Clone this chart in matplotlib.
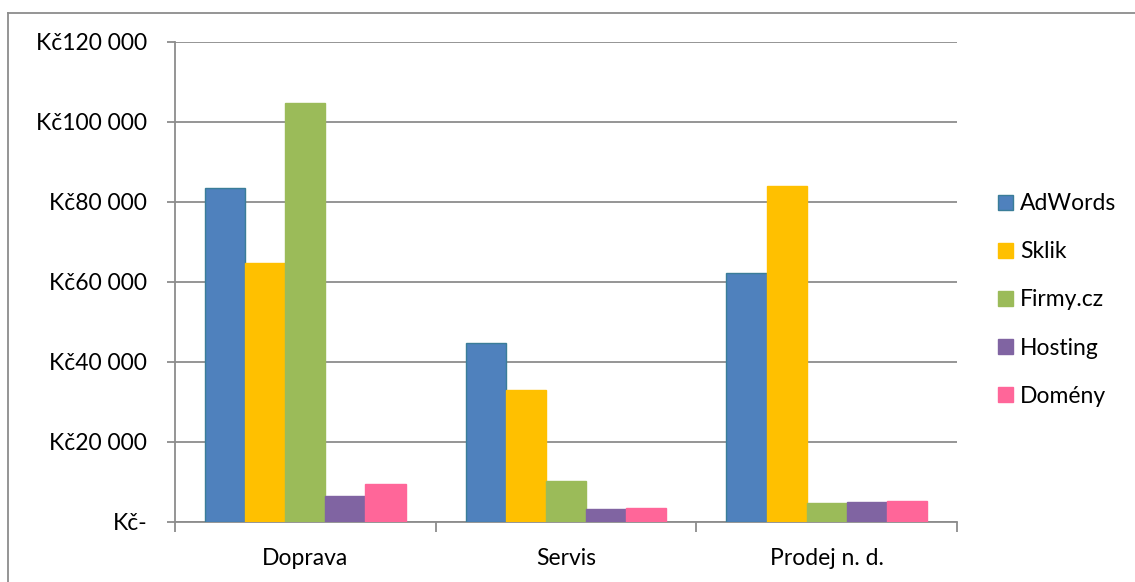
import numpy as np
import matplotlib
matplotlib.use('Agg')
import matplotlib.pyplot as plt
from matplotlib.ticker import FuncFormatter
from matplotlib.patches import Patch
from matplotlib.lines import Line2D

plt.rcParams['font.family'] = ['Lato', 'DejaVu Sans']

categories = ['Doprava', 'Servis', 'Prodej n. d.']
series = ['AdWords', 'Sklik', 'Firmy.cz', 'Hosting', 'Domény']
adwords = [83500, 44600, 62200]
sklik = [64750, 32850, 84000]
firmy = [104700, 10100, 4700]
hosting = [6400, 3250, 4900]
domeny = [9350, 3350, 5100]
yticks = [0, 20000, 40000, 60000, 80000, 100000, 120000]

values = [adwords, sklik, firmy, hosting, domeny]
colors = ['#4f81bd', '#ffc000', '#9bbb59', '#8064a2', '#ff6699']
edges = ['#3a7d98', '#ffc000', '#9bbb59', '#8064a2', '#ff6699']
grid_c = '#8c8c8c'
fs = 16.5

fig = plt.figure(figsize=(11.35, 5.82), dpi=100)
ax = fig.add_axes([175/1135, 1 - 521.7/582, (957 - 175)/1135, (521.7 - 42)/582])

x = np.arange(len(categories))
w = 1 / 6.5
for i, (vals, c, ec) in enumerate(zip(values, colors, edges)):
    ax.bar(x + (i - 2) * w, vals, width=w, color=c, edgecolor=ec,
           linewidth=1.0, label=series[i], zorder=3)

ax.set_xlim(-0.5, 2.5)
ax.set_ylim(0, 120000)
ax.set_yticks(yticks)

def kc(v, pos):
    if v == 0:
        return 'Kč-'
    return 'Kč' + '{:,.0f}'.format(v).replace(',', ' ')

ax.yaxis.set_major_formatter(FuncFormatter(kc))
ax.yaxis.grid(True, color=grid_c, linewidth=1.3, zorder=0)
ax.set_axisbelow(True)

ax.set_xticks(x)
ax.set_xticklabels(categories)
ax.set_xticks([-0.5, 0.5, 1.5, 2.5], minor=True)
ax.tick_params(axis='x', which='major', length=0, pad=19, labelsize=fs)
ax.tick_params(axis='x', which='minor', length=7, width=1.3, color=grid_c, direction='out')
ax.tick_params(axis='y', length=6, width=1.3, color=grid_c, labelsize=fs, pad=14)

for s in ['top', 'right']:
    ax.spines[s].set_visible(False)
for s in ['left', 'bottom']:
    ax.spines[s].set_color(grid_c)
    ax.spines[s].set_linewidth(1.3)

handles = [Patch(facecolor=c, edgecolor=ec, linewidth=1.0) for c, ec in zip(colors, edges)]
fig.legend(handles, series, loc='center left', bbox_to_anchor=(998/1135, 1 - 300/582),
           frameon=False, fontsize=fs, handlelength=0.65, handleheight=0.65,
           handletextpad=0.3, labelspacing=1.18, borderpad=0, borderaxespad=0)

# outer chart frame
fig.add_artist(Line2D([8/1135, 8/1135], [0, 1 - 13/582], color=grid_c, linewidth=1.3))
fig.add_artist(Line2D([8/1135, 1], [1 - 13/582, 1 - 13/582], color=grid_c, linewidth=1.3))

plt.savefig('out.png', dpi=100)
